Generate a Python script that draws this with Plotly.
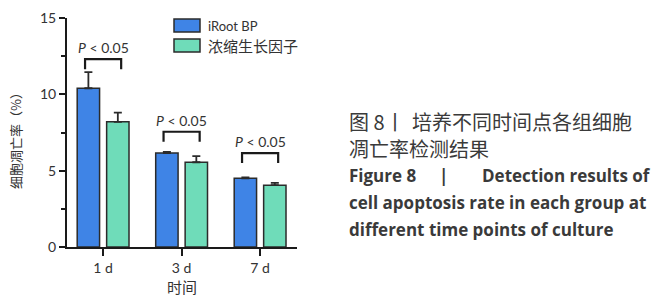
import plotly.graph_objects as go

# ---- data ----
categories = ["1 d", "3 d", "7 d"]
series_names = ["iRoot BP", "浓缩生长因子"]
iroot_values = [10.4, 6.15, 4.5]
iroot_errors = [1.05, 0.08, 0.06]
cgf_values = [8.2, 5.55, 4.05]
cgf_errors = [0.6, 0.4, 0.15]
bracket_heights = [12.3, 7.55, 6.15]
p_labels = ["<i>P</i> < 0.05", "<i>P</i> < 0.05", "<i>P</i> < 0.05"]
y_ticks = [0, 5, 10, 15]
colors = ["#3f84e6", "#6fdcb9"]

# ---- layout geometry (pixels) ----
W, H = 665, 300
L, R, T, B = 67, 297, 18, 247


def px_x(px):
    return (px - L) / (R - L)


def px_y(py):
    return (B - py) / (B - T)


fig = go.Figure()
for name, vals, errs, col in [
    (series_names[0], iroot_values, iroot_errors, colors[0]),
    (series_names[1], cgf_values, cgf_errors, colors[1]),
]:
    fig.add_trace(go.Bar(
        x=categories, y=vals, name=name,
        marker=dict(color=col, line=dict(color="#2b2b2b", width=1.5)),
        error_y=dict(type="data", array=errs, arrayminus=[0] * len(errs),
                     symmetric=False, color="#2b2b2b", thickness=1.8, width=4),
        showlegend=False,
    ))

shapes = []
annotations = []
# significance brackets
for i, (h, lab) in enumerate(zip(bracket_heights, p_labels)):
    x0, x1 = i - 0.23, i + 0.23
    shapes.append(dict(type="path", xref="x", yref="y",
                       path=f"M {x0},{h-0.65} L {x0},{h} L {x1},{h} L {x1},{h-0.65}",
                       line=dict(color="#1a1a1a", width=2.2)))
    annotations.append(dict(x=i, y=h + 0.75, xref="x", yref="y", text=lab,
                            showarrow=False,
                            font=dict(family="Lato", size=14, color="#333333")))

# manual legend
legend_sizes = [13, 15]
for k, (name, col, fs) in enumerate(zip(series_names, colors, legend_sizes)):
    top = 19 + k * 20
    shapes.append(dict(type="rect", xref="paper", yref="paper",
                       x0=px_x(174), x1=px_x(200), y0=px_y(top + 13), y1=px_y(top),
                       fillcolor=col, line=dict(color="#2b2b2b", width=1.5)))
    annotations.append(dict(x=px_x(206), y=px_y(top + 6.5), xref="paper", yref="paper",
                            text=name, showarrow=False, xanchor="left", yanchor="middle",
                            font=dict(family="Lato, Noto Sans CJK SC", size=fs, color="#333333")))

# y-axis title (placed as rotated annotation)
annotations.append(dict(x=px_x(15), y=px_y(138), xref="paper", yref="paper",
                        text="细胞凋亡率（%）", showarrow=False, textangle=-90,
                        xanchor="center", yanchor="middle",
                        font=dict(family="Noto Sans CJK SC", size=13, color="#333333")))

# caption
cn_font = dict(family="Noto Sans CJK SC", size=20, color="#3a3a3a")
cn_parts = [
    ("图 8", 347, "left", 121),
    ("丨", 395, "center", 121),
    ("培养不同时间点各组细胞", 410, "left", 121),
    ("凋亡率检测结果", 347, "left", 148),
]
for t, xx, anc, yy in cn_parts:
    annotations.append(dict(x=px_x(xx), y=px_y(yy), xref="paper", yref="paper",
                            text=t, showarrow=False, xanchor=anc, yanchor="middle",
                            font=cn_font))
en_font = dict(family="Open Sans", size=17, color="#3a3a3a")
en_parts = [
    ("Figure 8", 347, "left", 175.5),
    ("|", 443, "center", 175.5),
    ("Detection results of", 653, "right", 175.5),
    ("cell apoptosis rate in each group at", 347, "left", 202),
    ("different time points of culture", 347, "left", 229),
]
for t, xx, anc, yy in en_parts:
    annotations.append(dict(x=px_x(xx), y=px_y(yy), xref="paper", yref="paper",
                            text=f"<b>{t}</b>", showarrow=False, xanchor=anc, yanchor="middle",
                            font=en_font))

fig.update_layout(
    width=W, height=H,
    margin=dict(l=L, r=W - R, t=T, b=H - B, autoexpand=False),
    paper_bgcolor="white", plot_bgcolor="white",
    barmode="group", bargap=0.25, bargroupgap=0.24,
    shapes=shapes, annotations=annotations,
    font=dict(family="Lato, Noto Sans CJK SC", color="#333333"),
)
fig.update_xaxes(
    range=[-0.46, 2.47], showline=True, linecolor="#1a1a1a", linewidth=2,
    ticks="outside", ticklen=7, tickwidth=2, tickcolor="#1a1a1a",
    tickfont=dict(family="Lato", size=14, color="#333333"),
    title=dict(text="时间", font=dict(family="Noto Sans CJK SC", size=15, color="#333333"),
               standoff=0),
    showgrid=False, zeroline=False, automargin=False,
)
fig.update_yaxes(
    range=[0, 15], tickvals=y_ticks, showline=True, linecolor="#1a1a1a", linewidth=2,
    ticks="outside", ticklen=6, tickwidth=2, tickcolor="#1a1a1a",
    minor=dict(tickvals=[2.5, 7.5, 12.5], ticks="outside", ticklen=4, tickwidth=2,
               tickcolor="#1a1a1a"),
    tickfont=dict(family="Lato", size=14, color="#333333"),
    showgrid=False, zeroline=False, automargin=False,
)

fig.write_html("out.html", config={"displayModeBar": False},
               post_script="document.body.style.margin='0';")
